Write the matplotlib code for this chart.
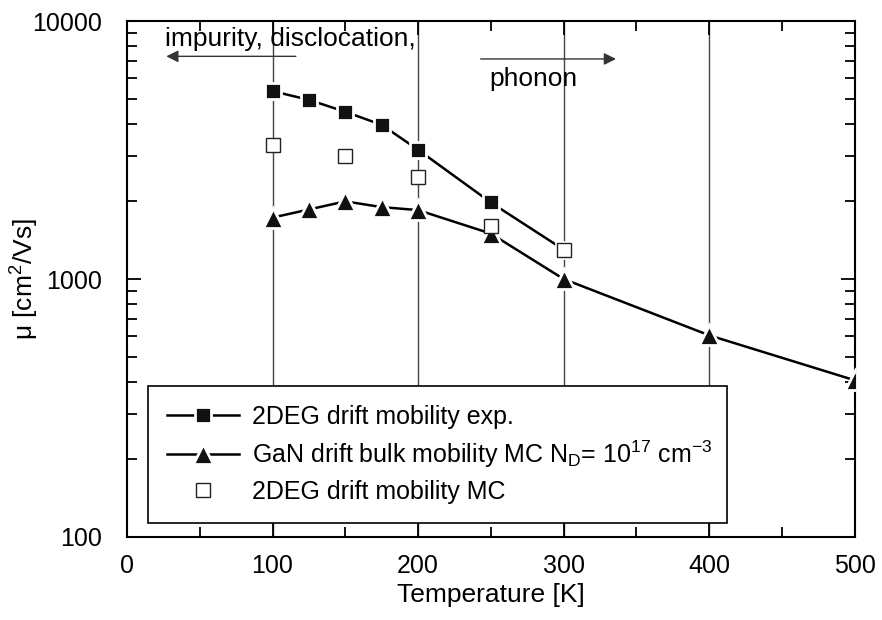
import matplotlib
matplotlib.use("Agg")
import matplotlib.pyplot as plt
from matplotlib.ticker import FixedLocator, LogLocator, NullFormatter, FixedFormatter

plt.rcParams['font.family'] = ['Liberation Sans', 'DejaVu Sans']
plt.rcParams['mathtext.fontset'] = 'custom'
plt.rcParams['mathtext.rm'] = 'Liberation Sans'

# data
T_exp = [100, 125, 150, 175, 200, 250, 300]
mu_exp = [5350, 4950, 4450, 3960, 3170, 1980, 1300]

T_bulk = [100, 125, 150, 175, 200, 250, 300, 400, 500]
mu_bulk = [1730, 1860, 2000, 1900, 1850, 1500, 1000, 605, 405]

T_mc = [100, 150, 200, 250, 300]
mu_mc = [3300, 2990, 2490, 1600, 1300]

x_ticks = [0, 100, 200, 300, 400, 500]
y_ticks = [100, 1000, 10000]
y_ticklabels = ["100", "1000", "10000"]
grid_x = [100, 200, 300, 400]

fig = plt.figure(figsize=(8.82, 6.2), dpi=100)
ax = fig.add_axes([0.144, 0.134, 0.825, 0.832])

for gx in grid_x:
    ax.axvline(gx, color='#444444', lw=1.0, zorder=1)

ax.plot(T_exp, mu_exp, color='black', lw=1.8, marker='s', ms=12,
        mfc='#111111', mec='white', mew=2.0, zorder=3,
        label='2DEG drift mobility exp.')
ax.plot(T_bulk, mu_bulk, color='black', lw=1.8, marker='^', ms=14,
        mfc='#111111', mec='white', mew=2.0, zorder=3,
        label=r'GaN drift bulk mobility MC N$_\mathregular{D}$= 10$^\mathregular{17}$ cm$^\mathregular{-3}$')
ax.plot(T_mc, mu_mc, ls='none', marker='s', ms=10,
        mfc='white', mec='#222222', mew=1.0, zorder=4,
        label='2DEG drift mobility MC')

ax.set_yscale('log')
ax.set_xlim(0, 500)
ax.set_ylim(100, 10000)

ax.xaxis.set_major_locator(FixedLocator(x_ticks))
ax.xaxis.set_minor_locator(FixedLocator([50, 150, 250, 350, 450]))
ax.yaxis.set_major_locator(FixedLocator(y_ticks))
ax.yaxis.set_major_formatter(FixedFormatter(y_ticklabels))
ax.yaxis.set_minor_locator(LogLocator(base=10, subs=range(2, 10)))
ax.yaxis.set_minor_formatter(NullFormatter())

ax.tick_params(which='both', direction='in', top=True, right=True,
               labelsize=18, width=1.3)
ax.tick_params(axis='x', which='both', pad=12)
ax.tick_params(axis='y', which='both', pad=18)
ax.tick_params(which='major', length=10)
ax.tick_params(which='minor', length=7)
for s in ax.spines.values():
    s.set_linewidth(1.5)

ax.set_xlabel('Temperature [K]', fontsize=19)
ax.xaxis.set_label_coords(0.5, -0.09)
ax.set_ylabel(r'μ [cm$^\mathregular{2}$/Vs]', fontsize=19)
ax.yaxis.set_label_coords(-0.12, 0.5)

# annotations
ax.text(26, 8550, 'impurity, disclocation,', fontsize=19, va='center', ha='left', zorder=5)
ax.annotate('', xy=(27, 7300), xytext=(116, 7300),
            arrowprops=dict(arrowstyle='-|>', color='#333333', lw=1.0,
                            mutation_scale=18, shrinkA=0, shrinkB=0), zorder=5)
ax.text(249, 5980, 'phonon', fontsize=19, va='center', ha='left', zorder=5)
ax.annotate('', xy=(336, 7130), xytext=(243, 7130),
            arrowprops=dict(arrowstyle='-|>', color='#333333', lw=1.0,
                            mutation_scale=18, shrinkA=0, shrinkB=0), zorder=5)

leg = ax.legend(loc='lower left', bbox_to_anchor=(0.029, 0.027, 0.795, 0.261),
                mode='expand', fontsize=18, frameon=True, fancybox=False,
                edgecolor='black', framealpha=1, borderpad=0.75,
                labelspacing=0.4, handlelength=2.9, handletextpad=0.5,
                borderaxespad=0)
leg.get_frame().set_linewidth(1.2)
leg.set_zorder(6)

fig.savefig('out.png', dpi=100)
